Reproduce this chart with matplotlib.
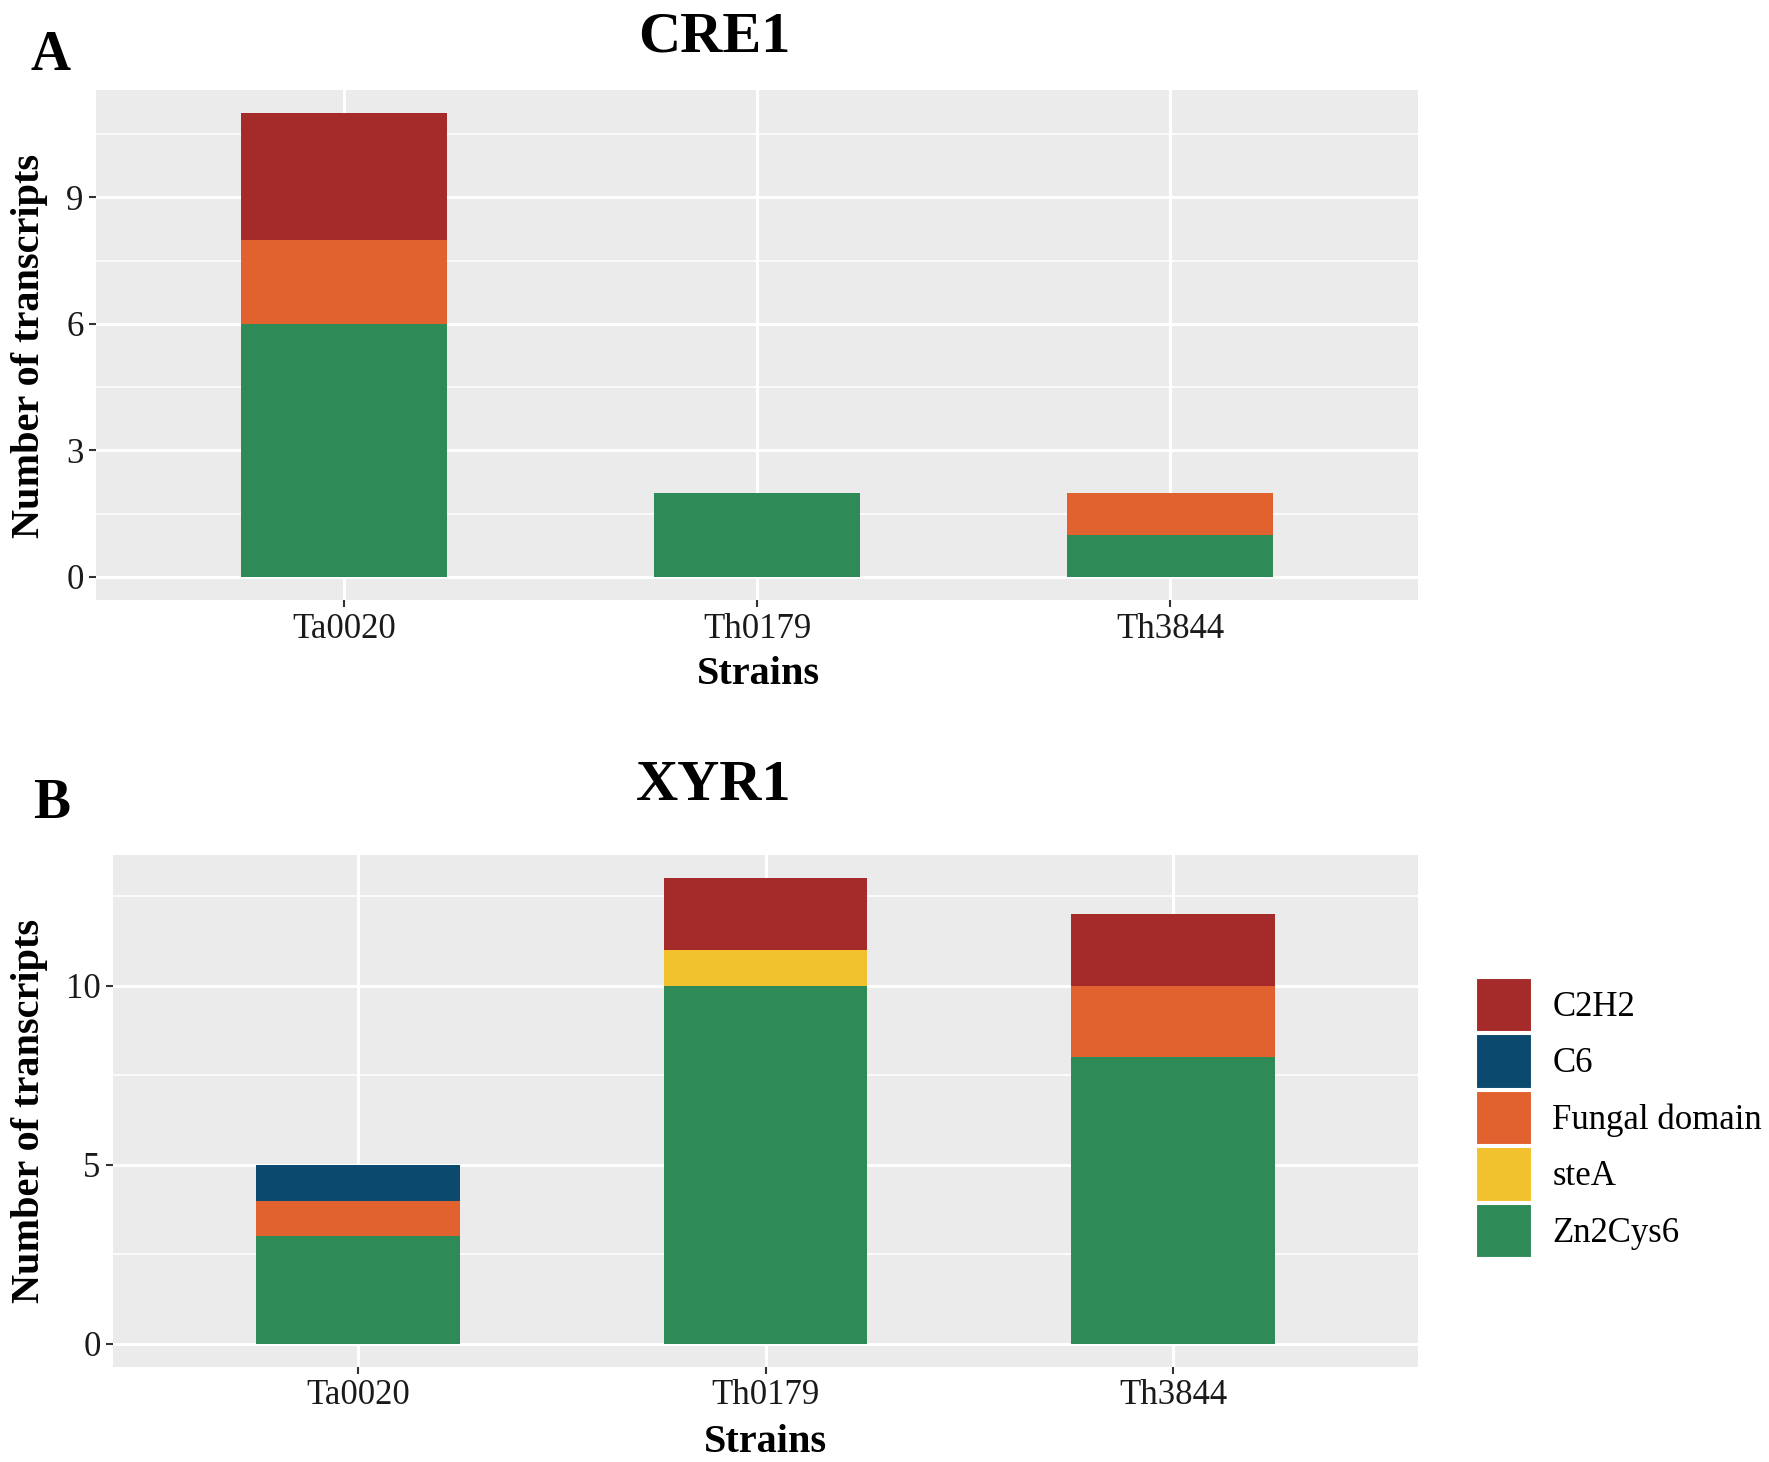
import matplotlib
matplotlib.use("Agg")
import matplotlib.pyplot as plt
from matplotlib.patches import Patch
import numpy as np

plt.rcParams['font.family'] = ['Liberation Serif', 'DejaVu Serif']

# data
strains = ["Ta0020", "Th0179", "Th3844"]
domains = ["C2H2", "C6", "Fungal domain", "steA", "Zn2Cys6"]
colors = {"C2H2": "#A52A2A", "C6": "#0B4A6E", "Fungal domain": "#E2622F",
          "steA": "#F2C12E", "Zn2Cys6": "#2E8B57"}

cre1_zn2cys6 = [6, 2, 1]
cre1_stea = [0, 0, 0]
cre1_fungal = [2, 0, 1]
cre1_c6 = [0, 0, 0]
cre1_c2h2 = [3, 0, 0]

xyr1_zn2cys6 = [3, 10, 8]
xyr1_stea = [0, 1, 0]
xyr1_fungal = [1, 0, 2]
xyr1_c6 = [1, 0, 0]
xyr1_c2h2 = [0, 2, 2]

cre1_ticks = [0, 3, 6, 9]
xyr1_ticks = [0, 5, 10]

W, H = 1769, 1462
fig = plt.figure(figsize=(W / 100, H / 100), dpi=100)


def panel(rect, stacks, yticks, ymax, title, letter, title_xy, letter_xy, ylab_xy, xlab_xy):
    ax = fig.add_axes(rect)
    ax.set_facecolor("#EBEBEB")
    x = np.arange(1, len(strains) + 1)
    bottom = np.zeros(len(strains))
    # ggplot stacks in reverse legend order: Zn2Cys6 at the bottom
    for name, vals in stacks:
        vals = np.array(vals, dtype=float)
        ax.bar(x, vals, width=0.5, bottom=bottom, color=colors[name], linewidth=0, zorder=3)
        bottom += vals
    pad = ymax * 0.05
    ax.set_ylim(-pad, ymax + pad)
    ax.set_xlim(0.4, 3.6)
    ax.set_xticks(x)
    ax.set_xticklabels(strains)
    ax.set_yticks(yticks)
    step = yticks[1] - yticks[0]
    minors = np.arange(yticks[0] + step / 2, ymax + pad, step)
    ax.set_yticks(minors, minor=True)
    ax.grid(True, which="major", color="white", linewidth=2.2, zorder=0)
    ax.grid(True, which="minor", axis="y", color="white", linewidth=1.1, zorder=0)
    ax.tick_params(which="minor", length=0)
    ax.tick_params(which="major", length=5, width=1.5, color="#333333",
                   labelsize=25, labelcolor="#1a1a1a", pad=4)
    for s in ax.spines.values():
        s.set_visible(False)
    ax.set_axisbelow(True)
    fig.text(title_xy[0], title_xy[1], title, fontsize=42, fontweight="bold",
             ha="center", va="center")
    fig.text(letter_xy[0], letter_xy[1], letter, fontsize=40, fontweight="bold",
             ha="center", va="center")
    fig.text(ylab_xy[0], ylab_xy[1], "Number of transcripts", fontsize=29,
             fontweight="bold", rotation=90, ha="center", va="center")
    fig.text(xlab_xy[0], xlab_xy[1], "Strains", fontsize=29, fontweight="bold",
             ha="center", va="center")
    return ax


cre1 = [("Zn2Cys6", cre1_zn2cys6), ("steA", cre1_stea), ("Fungal domain", cre1_fungal),
        ("C6", cre1_c6), ("C2H2", cre1_c2h2)]
xyr1 = [("Zn2Cys6", xyr1_zn2cys6), ("steA", xyr1_stea), ("Fungal domain", xyr1_fungal),
        ("C6", xyr1_c6), ("C2H2", xyr1_c2h2)]

panel([96 / W, 1 - 600 / H, (1418 - 96) / W, (600 - 90) / H], cre1, cre1_ticks,
      sum(v[0] for _, v in cre1), "CRE1", "A",
      (714 / W, 1 - 37 / H), (50 / W, 1 - 56 / H), (30 / W, 1 - 346 / H), (758 / W, 1 - 675 / H))
panel([113 / W, 1 - 1367 / H, (1418 - 113) / W, (1367 - 855) / H], xyr1, xyr1_ticks,
      sum(v[1] for _, v in xyr1), "XYR1", "B",
      (714 / W, 1 - 786 / H), (52 / W, 1 - 804 / H), (30 / W, 1 - 1111 / H), (765 / W, 1 - 1442 / H))

handles = [Patch(facecolor=colors[d], edgecolor="white", linewidth=1.5) for d in domains]
fig.legend(handles, domains, loc="center left", bbox_to_anchor=(1476 / W, 1 - 1118 / H),
           frameon=False, fontsize=25, handlelength=1.6, handleheight=2.05,
           labelspacing=0.05, handletextpad=0.6, borderaxespad=0, borderpad=0)

fig.savefig("out.png", dpi=100)
